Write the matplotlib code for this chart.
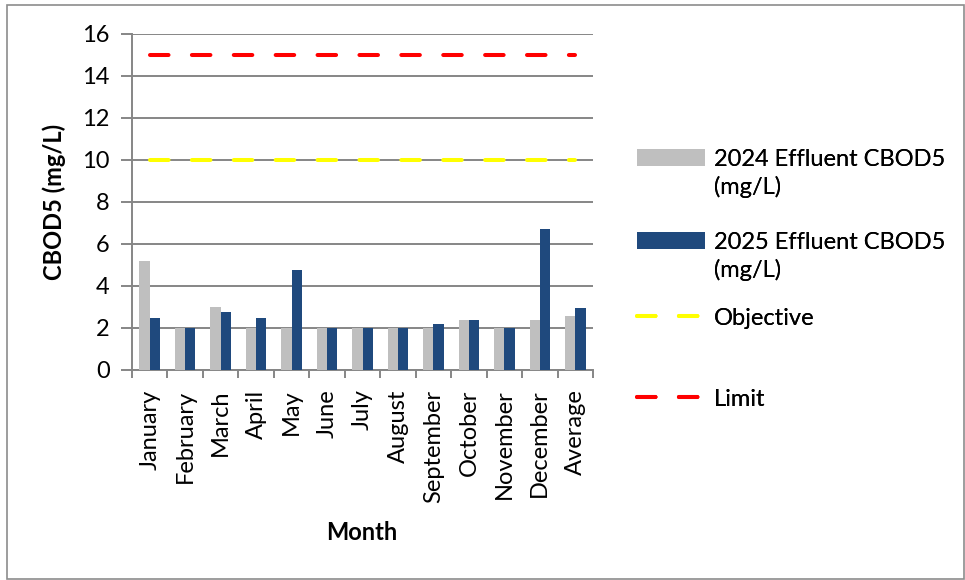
import matplotlib.pyplot as plt
import numpy as np
from matplotlib.patches import Rectangle

plt.rcParams['font.family'] = ['Lato', 'DejaVu Sans']

months = ['January', 'February', 'March', 'April', 'May', 'June', 'July',
          'August', 'September', 'October', 'November', 'December', 'Average']
cbod_2024 = [5.2, 2.0, 3.0, 2.0, 2.0, 2.0, 2.0, 2.0, 2.0, 2.4, 2.0, 2.4, 2.55]
cbod_2025 = [2.5, 2.0, 2.75, 2.5, 4.75, 2.0, 2.0, 2.0, 2.2, 2.4, 2.0, 6.7, 2.95]
objective = [10] * len(months)
limit = [15] * len(months)

grey = '#BFBFBF'
navy = '#1F497D'
axis_col = '#868686'
fs = 17

fig = plt.figure(figsize=(9.65, 5.8), dpi=100)
ax = fig.add_axes([132 / 965, 1 - 370 / 580, (593 - 132) / 965, (370 - 34) / 580])

x = np.arange(len(months))
w = 0.29
b1 = ax.bar(x - w / 2, cbod_2024, w, color=grey, zorder=3)
b2 = ax.bar(x + w / 2, cbod_2025, w, color=navy, zorder=3)
l1, = ax.plot(x, objective, color='#FFFF00', lw=2.9, ls=(0, (4.6, 5.8)),
              dash_capstyle='round', zorder=4)
l2, = ax.plot(x, limit, color='#FF0000', lw=2.9, ls=(0, (4.6, 5.8)),
              dash_capstyle='round', zorder=4)

ax.set_xlim(-0.5, len(months) - 0.5)
ax.set_ylim(0, 16)
ax.set_yticks(np.arange(0, 17, 2))
ax.yaxis.grid(True, color=axis_col, lw=1.4, zorder=0)
ax.set_axisbelow(True)

# category labels in the middle, tick marks between categories
ax.set_xticks(x)
ax.set_xticklabels(months, rotation=90, fontsize=fs)
ax.tick_params(axis='x', length=0, pad=14)
ax.set_xticks(np.arange(-0.5, len(months)), minor=True)
ax.tick_params(axis='x', which='minor', length=6, width=1.4, color=axis_col)
ax.tick_params(axis='y', length=8, width=1.4, color=axis_col, labelsize=fs, pad=8)

for s in ['top', 'right']:
    ax.spines[s].set_visible(False)
for s in ['left', 'bottom']:
    ax.spines[s].set_color(axis_col)
    ax.spines[s].set_linewidth(1.4)

ax.set_ylabel('CBOD5 (mg/L)', fontsize=fs, fontweight='bold', labelpad=12)
fig.text(362 / 965, 1 - 532 / 580, 'Month', fontsize=fs, fontweight='bold',
         ha='center', va='center')

# one legend box per entry so the spacing can be set freely
entries = [(b1, '2024 Effluent CBOD5\n(mg/L)', 149),
           (b2, '2025 Effluent CBOD5\n(mg/L)', 232),
           (l1, 'Objective', 308),
           (l2, 'Limit', 389)]
for h, l, top in entries:
    leg = fig.legend([h], [l], loc='upper left',
                     bbox_to_anchor=(637 / 965, 1 - top / 580),
                     frameon=False, fontsize=fs, borderpad=0, borderaxespad=0,
                     handlelength=2.9, handletextpad=0.35)
    leg.get_texts()[0].set_linespacing(1.35)
    # keep the key level with the first text line
    for item in leg._legend_handle_box.get_children()[0].get_children():
        item.align = 'top'
    fig.add_artist(leg)

fig.add_artist(Rectangle((7 / 965, 1 / 580), 957 / 965, 574 / 580,
                         transform=fig.transFigure, fill=False,
                         edgecolor='#8C8C8C', lw=1.2))

fig.savefig('out.png', dpi=100)
